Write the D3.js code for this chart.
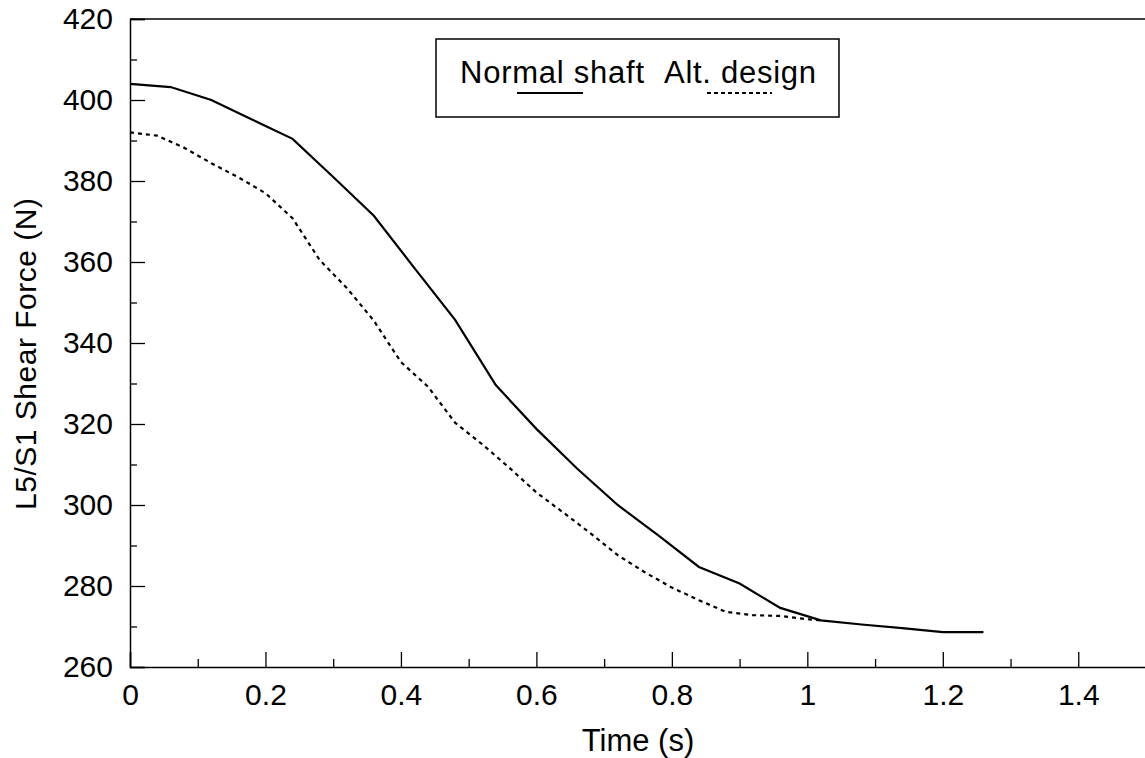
<!DOCTYPE html>
<html>
<head>
<meta charset="utf-8">
<script src="https://cdn.jsdelivr.net/npm/d3@7"></script>
<style>
  html, body { margin: 0; padding: 0; background: #fff; }
  svg { display: block; }
  text { font-family: "Liberation Sans", Arial, Helvetica, sans-serif; fill: #000; }
</style>
</head>
<body>
<svg id="chart" width="1145" height="758"></svg>
<script>
// ---- data ----
const normalTime = [0, 0.06, 0.12, 0.18, 0.24, 0.30, 0.36, 0.42, 0.48, 0.54, 0.60, 0.66, 0.72, 0.78, 0.84, 0.90, 0.96, 1.02, 1.08, 1.14, 1.20, 1.26];
const normalForce = [404, 403.2, 400, 395.2, 390.4, 381, 371.4, 358.5, 345.7, 329.6, 318.8, 309, 300, 292.5, 284.7, 280.6, 274.6, 271.5, 270.5, 269.6, 268.6, 268.6];

const altTime = [0, 0.04, 0.08, 0.12, 0.16, 0.20, 0.24, 0.28, 0.32, 0.36, 0.40, 0.44, 0.48, 0.52, 0.56, 0.60, 0.64, 0.68, 0.72, 0.76, 0.80, 0.84, 0.88, 0.92, 0.96, 1.00, 1.02];
const altForce = [392, 391.2, 388.2, 384.4, 380.9, 377, 370.8, 360.5, 353.6, 345.5, 335.3, 329.2, 320.3, 315, 309.2, 303.1, 298.1, 293, 287.6, 283.4, 279.6, 276.5, 273.6, 272.8, 272.6, 271.8, 271.5];

const xTicks = [0, 0.2, 0.4, 0.6, 0.8, 1, 1.2, 1.4];
const xMinorTicks = [0.1, 0.3, 0.5, 0.7, 0.9, 1.1, 1.3];
const yTicks = [260, 280, 300, 320, 340, 360, 380, 400, 420];
const yMinorTicks = [270, 290, 310, 330, 350, 370, 390, 410];

const seriesNames = ["Normal shaft", "Alt. design"];
const xTitle = "Time (s)";
const yTitle = "L5/S1 Shear Force (N)";

// ---- layout ----
const svg = d3.select("#chart");
const mLeft = 130, mRight = 1146, mTop = 19, mBottom = 667;

const x = d3.scaleLinear().domain([0, 1.5]).range([mLeft, mRight]);
const y = d3.scaleLinear().domain([260, 420]).range([mBottom, mTop]);

// top border
svg.append("line")
  .attr("x1", x(0)).attr("x2", x(1.5))
  .attr("y1", y(420)).attr("y2", y(420))
  .attr("stroke", "#000").attr("stroke-width", 1.5);

// y axis major
svg.append("g")
  .attr("transform", `translate(${mLeft},0)`)
  .call(d3.axisLeft(y).tickValues(yTicks).tickSize(-15).tickPadding(17).tickFormat(d3.format("d")));
// y axis minor
svg.append("g")
  .attr("transform", `translate(${mLeft},0)`)
  .call(d3.axisLeft(y).tickValues(yMinorTicks).tickSize(-7).tickFormat(""))
  .select(".domain").remove();

// x axis major
svg.append("g")
  .attr("transform", `translate(0,${mBottom})`)
  .call(d3.axisBottom(x).tickValues(xTicks).tickSize(-15).tickPadding(17).tickFormat(d => String(d)));
// x axis minor
svg.append("g")
  .attr("transform", `translate(0,${mBottom})`)
  .call(d3.axisBottom(x).tickValues(xMinorTicks).tickSize(-8).tickFormat(""))
  .select(".domain").remove();

svg.selectAll(".domain").attr("stroke", "#000").attr("stroke-width", 1.5);
svg.selectAll(".tick line").attr("stroke", "#000").attr("stroke-width", 1.3);
svg.selectAll(".tick text")
  .attr("font-size", 30)
  .attr("font-family", "Liberation Sans, Arial, sans-serif")
  .attr("fill", "#000");

// axis titles
svg.append("text")
  .attr("x", 638).attr("y", 751)
  .attr("text-anchor", "middle")
  .attr("font-size", 31)
  .text(xTitle);

svg.append("text")
  .attr("transform", "translate(36,354) rotate(-90)")
  .attr("text-anchor", "middle")
  .attr("font-size", 30)
  .attr("textLength", 312)
  .attr("lengthAdjust", "spacing")
  .text(yTitle);

// lines
const lineGen = d3.line().x(d => x(d[0])).y(d => y(d[1]));
const normalData = normalTime.map((t, i) => [t, normalForce[i]]);
const altData = altTime.map((t, i) => [t, altForce[i]]);

svg.append("path")
  .datum(normalData)
  .attr("d", lineGen)
  .attr("fill", "none")
  .attr("stroke", "#000")
  .attr("stroke-width", 2.2);

svg.append("path")
  .datum(altData)
  .attr("d", lineGen)
  .attr("fill", "none")
  .attr("stroke", "#000")
  .attr("stroke-width", 2.2)
  .attr("stroke-dasharray", "4,4");

// legend
const lg = svg.append("g");
lg.append("rect")
  .attr("x", 436).attr("y", 39).attr("width", 403).attr("height", 78)
  .attr("fill", "#fff").attr("stroke", "#000").attr("stroke-width", 1.5);
lg.append("text")
  .attr("x", 460).attr("y", 83)
  .attr("font-size", 31)
  .attr("textLength", 184).attr("lengthAdjust", "spacing")
  .text(seriesNames[0]);
lg.append("text")
  .attr("x", 664).attr("y", 83)
  .attr("font-size", 31)
  .attr("textLength", 152).attr("lengthAdjust", "spacing")
  .text(seriesNames[1]);
lg.append("line")
  .attr("x1", 517).attr("x2", 583).attr("y1", 93).attr("y2", 93)
  .attr("stroke", "#000").attr("stroke-width", 2);
lg.append("line")
  .attr("x1", 707).attr("x2", 772).attr("y1", 93).attr("y2", 93)
  .attr("stroke", "#000").attr("stroke-width", 2)
  .attr("stroke-dasharray", "4,3");
</script>
</body>
</html>
